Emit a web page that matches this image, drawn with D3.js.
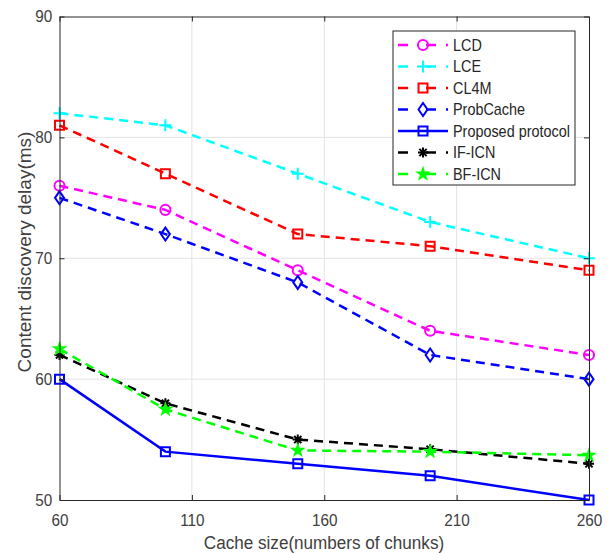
<!DOCTYPE html>
<html><head><meta charset="utf-8">
<script src="https://cdn.jsdelivr.net/npm/d3@7"></script>
<style>body{margin:0;background:#fff}</style>
</head><body>
<script>
// Cache sizes (x) and discovery delay per scheme (ms)
const cacheSizes = [60, 100, 150, 200, 260];
const lcd       = [76, 74, 69, 64, 62];
const lce       = [82, 81, 77, 73, 70];
const cl4m      = [81, 77, 72, 71, 69];
const probCache = [75, 72, 68, 62, 60];
const proposed  = [60, 54, 53, 52, 50];
const ifIcn     = [62, 58, 55, 54.2, 53];
const bfIcn     = [62.5, 57.5, 54.1, 54, 53.7];

const xTicks = [60, 110, 160, 210, 260];
const yTicks = [50, 60, 70, 80, 90];

const seriesNames = ["LCD", "LCE", "CL4M", "ProbCache", "Proposed protocol", "IF-ICN", "BF-ICN"];
const seriesValues = [lcd, lce, cl4m, probCache, proposed, ifIcn, bfIcn];
const seriesColors = ["#ff00ff", "#00ffff", "#ff0000", "#0000ff", "#0000ff", "#000000", "#00ff00"];
const seriesMarkers = ["circle", "plus", "square", "diamond", "square", "asterisk", "star"];
const seriesDashed = [true, true, true, true, false, true, true];

const W = 611, H = 553;
const svg = d3.select("body").append("svg").attr("width", W).attr("height", H)
  .style("font-family", "'Liberation Sans', Arial, sans-serif");

const x = d3.scaleLinear().domain([60, 260]).range([59.5, 589]);
const y = d3.scaleLinear().domain([50, 90]).range([500, 16.5]);
const axisColor = "#262626";
const textColor = "#404040";
const squeeze = "scale(0.9,1)";

// grid
const grid = svg.append("g").attr("stroke", "#e3e3e3").attr("stroke-width", 1);
grid.selectAll(".gx").data(xTicks.slice(1, -1)).join("line")
  .attr("x1", d => x(d)).attr("x2", d => x(d)).attr("y1", y(50)).attr("y2", y(90));
grid.selectAll(".gy").data(yTicks.slice(1, -1)).join("line")
  .attr("y1", d => y(d)).attr("y2", d => y(d)).attr("x1", x(60)).attr("x2", x(260));

// marker drawing
function marker(g, type, color) {
  const s = g.append("path").attr("fill", "none").attr("stroke", color).attr("stroke-width", 2);
  let d;
  switch (type) {
    case "circle": d = d3.symbol(d3.symbolCircle, 80)(); break;
    case "square": d = "M-4.5,-4.5H4.5V4.5H-4.5Z"; break;
    case "diamond": d = "M0,-6.5L4.5,0L0,6.5L-4.5,0Z"; break;
    case "plus": d = "M-6,0H6M0,-6V6"; break;
    case "asterisk": d = "M-5,0H5M0,-5V5M-3.6,-3.6L3.6,3.6M-3.6,3.6L3.6,-3.6"; break;
    case "star": d = d3.symbol(d3.symbolStar, 40)(); s.attr("fill", color).attr("stroke-width", 1.5); break;
  }
  s.attr("d", d);
  return s;
}

const line = d3.line().x((d, i) => x(cacheSizes[i])).y(d => y(d));
const plot = svg.append("g");
seriesValues.forEach((vals, k) => {
  plot.append("path").datum(vals)
    .attr("d", line).attr("fill", "none")
    .attr("stroke", seriesColors[k]).attr("stroke-width", 2.5)
    .attr("stroke-dasharray", seriesDashed[k] ? "9,6" : null);
  vals.forEach((v, i) => {
    const g = plot.append("g").attr("transform", `translate(${x(cacheSizes[i])},${y(v)})`);
    marker(g, seriesMarkers[k], seriesColors[k]);
  });
});

// axes (ticks point inward, box on all four sides)
function styleAxis(g) {
  g.selectAll("path").attr("stroke", axisColor);
  g.selectAll("line").attr("stroke", axisColor);
  g.selectAll("text").attr("fill", textColor).style("font-size", "17px")
    .style("font-family", "'Liberation Sans', Arial, sans-serif");
}
const xb = svg.append("g").attr("transform", `translate(0,${y(50)})`)
  .call(d3.axisBottom(x).tickValues(xTicks).tickSize(-5).tickSizeOuter(0).tickPadding(14));
styleAxis(xb);
xb.selectAll("text").attr("transform", squeeze);
const yl = svg.append("g").attr("transform", `translate(${x(60)},0)`)
  .call(d3.axisLeft(y).tickValues(yTicks).tickSize(-5).tickSizeOuter(0).tickPadding(8));
styleAxis(yl);
yl.selectAll("text").attr("transform", squeeze);
const xt = svg.append("g").attr("transform", `translate(0,${y(90)})`)
  .call(d3.axisTop(x).tickValues(xTicks).tickSize(-5).tickSizeOuter(0).tickFormat(""));
styleAxis(xt);
const yr = svg.append("g").attr("transform", `translate(${x(260)},0)`)
  .call(d3.axisRight(y).tickValues(yTicks).tickSize(-5).tickSizeOuter(0).tickFormat(""));
styleAxis(yr);

// axis titles
svg.append("text").attr("transform", `translate(324,549) ${squeeze}`)
  .attr("text-anchor", "middle").attr("fill", textColor).style("font-size", "19px")
  .text("Cache size(numbers of chunks)");
svg.append("text").attr("transform", "translate(31,252) rotate(-90)")
  .attr("text-anchor", "middle").attr("fill", textColor).style("font-size", "19px")
  .text("Content discovery delay(ms)");

// legend
const lg = svg.append("g");
lg.append("rect").attr("x", 393).attr("y", 31).attr("width", 182).attr("height", 154)
  .attr("fill", "#fff").attr("stroke", axisColor).attr("stroke-width", 1);
seriesNames.forEach((name, k) => {
  const cy = 45 + k * 21.5;
  lg.append("line").attr("x1", 398).attr("x2", 448).attr("y1", cy).attr("y2", cy)
    .attr("stroke", seriesColors[k]).attr("stroke-width", 2.5)
    .attr("stroke-dasharray", seriesDashed[k] ? "10,18,10" : null);
  const g = lg.append("g").attr("transform", `translate(423,${cy})`);
  marker(g, seriesMarkers[k], seriesColors[k]);
  lg.append("text").attr("transform", `translate(453,${cy + 5.5}) ${squeeze}`)
    .attr("fill", "#262626").style("font-size", "16px").text(name);
});
</script>
</body></html>
